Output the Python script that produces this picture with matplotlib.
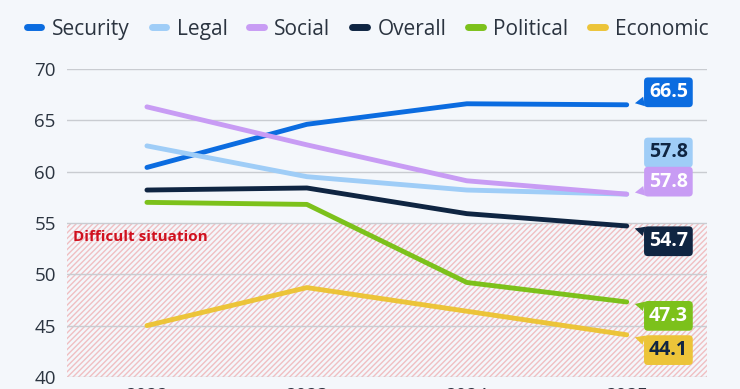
import numpy as np
import matplotlib.pyplot as plt
from matplotlib.lines import Line2D

plt.rcParams['font.family'] = ['Open Sans', 'DejaVu Sans']
plt.rcParams['hatch.linewidth'] = 1.0

years = ['2022', '2023', '2024', '2025']
security = [60.4, 64.6, 66.6, 66.5]
legal = [62.5, 59.5, 58.2, 57.8]
social = [66.3, 62.6, 59.1, 57.8]
overall = [58.2, 58.4, 55.9, 54.7]
political = [57.0, 56.8, 49.2, 47.3]
economic = [45.0, 48.7, 46.4, 44.1]

names = ['Security', 'Legal', 'Social', 'Overall', 'Political', 'Economic']
series = [security, legal, social, overall, political, economic]
colors = ['#0b6ce0', '#9fcdf7', '#c89cf4', '#0f2542', '#7cc11b', '#ecc439']
text_colors = ['white', '#0f2542', 'white', 'white', 'white', '#0f2542']
# vertical shift of the end labels in points (negative = up), and tail corner
label_dy = [-9, -30, -9, 11, 10, 11]
tails = ['bottom', None, 'bottom', 'top', 'top', 'top']

bg = '#f4f7fb'
fig = plt.figure(figsize=(7.4, 3.89), dpi=100, facecolor=bg)
ax = fig.add_axes([0.0905, 0.031, 0.8645, 0.792])
ax.set_facecolor(bg)

x = np.arange(len(years))
ax.axhspan(40, 55, facecolor='none', edgecolor='#f0bfc2', hatch='//////', linewidth=0, zorder=0)
ax.text(-0.46, 53.6, 'Difficult situation', color='#d0101e', fontsize=11, fontweight='bold',
        va='center', ha='left', zorder=1)

for vals, name, c in zip(series, names, colors):
    ax.plot(x, vals, color=c, linewidth=3.5, solid_capstyle='round', zorder=3, label=name)

for vals, c, tc, dy, tail in zip(series, colors, text_colors, label_dy, tails):
    arrow = None
    if tail is not None:
        arrow = dict(arrowstyle='wedge,tail_width=0.5,shrink_factor=0.5', fc=c, ec='none',
                     relpos=(0.03, 0.1) if tail == 'bottom' else (0.03, 0.9),
                     shrinkA=0, shrinkB=6)
    ax.annotate(f'{vals[-1]:.1f}', xy=(x[-1], vals[-1]), xytext=(30, -dy),
                textcoords='offset points', ha='center', va='center',
                color=tc, fontsize=14, fontweight='bold', zorder=5,
                bbox=dict(boxstyle='round,pad=0.25,rounding_size=0.2', fc=c, ec='none'),
                arrowprops=arrow)

ax.set_xlim(-0.5, 3.5)
ax.set_ylim(40, 70)
ax.set_yticks([40, 45, 50, 55, 60, 65, 70])
ax.set_xticks(x)
ax.set_xticklabels(years)
ax.get_xticklabels()[-1].set_fontweight('bold')
ax.grid(axis='y', color='#c9ccd1', linewidth=1)
ax.set_axisbelow(True)
ax.tick_params(axis='y', length=0, labelsize=13.5, labelcolor='#2b3440', pad=8)
ax.tick_params(axis='x', length=0, labelsize=13.5, labelcolor='#2b3440', pad=7)
for s in ax.spines.values():
    s.set_visible(False)

handles = [Line2D([0], [0], color=c, linewidth=5, solid_capstyle='round') for c in colors]
fig.legend(handles, names, loc='center', bbox_to_anchor=(0.497, 0.925), ncol=6, frameon=False,
           fontsize=15, handlelength=0.7, handletextpad=0.5, columnspacing=1.05,
           labelcolor='#2b3440')

fig.savefig('out.png', dpi=100, facecolor=bg)
